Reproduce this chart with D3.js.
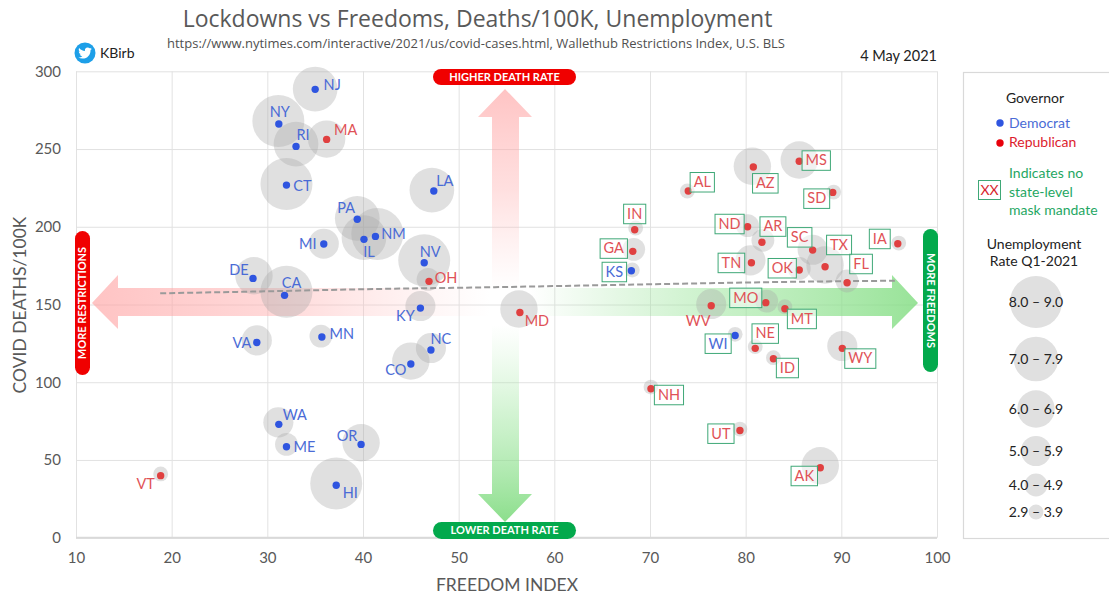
<!DOCTYPE html>
<html><head><meta charset="utf-8">
<script src="https://cdn.jsdelivr.net/npm/d3@7"></script>
<style>html,body{margin:0;padding:0;background:#fff}svg{display:block}text{font-family:Lato,sans-serif}</style>
</head><body><svg id="c" width="1109" height="595"></svg>
<script>
const titleText = "Lockdowns vs Freedoms, Deaths/100K, Unemployment";
const subtitleText = "https://www.nytimes.com/interactive/2021/us/covid-cases.html, Wallethub Restrictions Index, U.S. BLS";
const xTicks = [10,20,30,40,50,60,70,80,90,100];
const yTicks = [0,50,100,150,200,250,300];

const states = ["NJ","NY","RI","MA","CT","LA","PA","NM","IL","MI","DE","CA","NV","OH","KY","VA","MN","NC","CO","WA","ME","OR","HI","VT","MD",
  "AL","AZ","MS","SD","IN","ND","AR","GA","KS","SC","TX","TN","OK","FL","IA","WV","MO","MT","WI","NE","ID","WY","NH","UT","AK"];
const governor = ["D","D","D","R","D","D","D","D","D","D","D","D","D","R","D","D","D","D","D","D","D","D","D","R","R",
  "R","R","R","R","R","R","R","R","D","R","R","R","R","R","R","R","R","R","D","R","R","R","R","R","R"];
const freedomIndex = [35.0,31.2,33.0,36.2,32.0,47.4,39.4,41.3,40.1,35.9,28.5,31.8,46.4,46.9,46.0,28.9,35.7,47.1,45.0,31.2,32.0,39.8,37.2,18.85,56.4,
  74.0,80.8,85.6,89.1,68.4,80.2,81.7,68.2,68.05,87.0,88.3,80.6,85.6,90.6,95.9,76.4,82.1,84.1,78.9,81.0,82.9,90.1,70.1,79.4,87.8];
const deathsPer100k = [288.4,266.1,251.7,256.2,226.8,223.0,204.8,193.8,191.9,188.9,166.8,155.9,176.9,164.9,147.7,125.6,129.1,120.7,111.7,72.9,58.5,60.0,33.7,39.9,144.9,
  223.0,238.4,242.1,222.1,198.1,200.0,190.0,184.2,171.7,185.0,174.3,176.9,172.2,164.0,189.1,149.2,151.2,147.3,130.1,121.8,115.1,121.8,95.8,69.0,45.0];
// the bubbles sit slightly off the dots in the source chart
const bubbleFreedom = [35.0,31.15,33.0,36.2,32.0,47.2,39.4,41.5,40.1,35.9,28.6,32.0,46.4,46.8,46.0,28.9,35.6,47.1,45.0,31.15,32.0,39.8,37.2,18.85,56.3,
  73.9,80.7,85.6,89.2,68.5,80.2,81.8,68.3,68.15,87.0,88.3,80.5,85.6,90.6,96.0,76.4,82.2,84.1,78.9,81.0,82.9,90.1,70.1,79.4,87.8];
const bubbleDeaths = [288.6,268.0,253.2,256.4,227.5,223.6,205.4,195.3,193.0,189.1,168.5,158.2,178.4,166.2,149.0,126.9,129.7,122.0,113.6,74.2,60.0,61.1,34.9,41.0,147.1,
  223.0,238.9,242.9,222.3,199.2,200.7,191.3,185.5,172.2,185.2,175.4,178.4,173.2,165.1,189.5,150.3,152.2,148.6,130.8,122.9,115.8,123.3,96.9,69.9,46.3];
const unemployment = [7.5,8.5,7.5,6.5,8.5,7.5,7.5,8.5,7.5,5.5,6.5,8.5,8.5,4.5,5.5,5.5,4.5,5.5,6.5,5.5,4.5,6.5,8.5,3.4,6.5,
  3.4,6.5,6.5,3.4,3.4,4.5,4.5,4.5,3.4,5.5,6.5,5.5,4.5,4.5,3.4,5.5,4.5,3.4,3.4,3.4,3.4,5.5,3.4,3.4,6.5];
const noMaskMandate = ["AL","AZ","MS","SD","IN","ND","AR","GA","KS","SC","TX","TN","OK","FL","IA","MO","MT","WI","NE","ID","WY","NH","UT","AK"];
const trendFreedom = [18.8,30,40,54.3,70,85,95.6];
const trendDeaths = [157.2,158.5,159.8,161.2,163,164.6,165.3];
const legendRanges = ["8.0 – 9.0","7.0 – 7.9","6.0 – 6.9","5.0 – 5.9","4.0 – 4.9","2.9 – 3.9"];
const legendRates = [8.5,7.5,6.5,5.5,4.5,3.4];

// layout: label centre offset from each dot, in pixels
const labelOffset = {NJ:[17,-4],NY:[1,-12],RI:[7,-11],MA:[19,-9],CT:[16,1],LA:[11,-10],PA:[-11,-11],NM:[18,-2],IL:[5,13],MI:[-16,0],DE:[-14,-8],CA:[7,-12],NV:[6,-11],OH:[17,-3],KY:[-15,8],VA:[-15,0],MN:[20,-3],NC:[10,-11],CO:[-15,6],WA:[16,-9],ME:[18,0],OR:[-14,-8],HI:[14,8],VT:[-15,8],MD:[17,8],WV:[-13,15],
  AL:[14,-9],AZ:[12,16],MS:[17,-1],SD:[-16,6],IN:[0,-16],ND:[-18,-3],AR:[11,-16],GA:[-19,-3],KS:[-17,1],SC:[-13,-13],TX:[14,-22],TN:[-20,0],OK:[-17,-2],FL:[14,-19],IA:[-18,-5],MO:[-20,-5],MT:[17,10],WI:[-17,8],NE:[10,-15],ID:[14,9],WY:[18,10],NH:[18,6],UT:[-19,3],AK:[-16,8]};

const svg = d3.select("#c");
const x = d3.scaleLinear().domain([10,100]).range([76,937]);
const y = d3.scaleLinear().domain([0,300]).range([537.7,71.3]);
const r = d3.scaleLinear().domain([3.4,8.5]).range([7.4,26]);
const GRID="#e2e2e2", TICK="#595959", BLUE="#2f55e0", RED="#e04040", BLUET="#4a6bd6", REDT="#df5257", GREEN="#3fa877";

const defs = svg.append("defs");
function grad(id,x1,y1,x2,y2,stops){
  const g=defs.append("linearGradient").attr("id",id).attr("gradientUnits","userSpaceOnUse")
    .attr("x1",x1).attr("y1",y1).attr("x2",x2).attr("y2",y2);
  stops.forEach(s=>g.append("stop").attr("offset",s[0]).attr("stop-color",s[1]).attr("stop-opacity",s[2]));
}
grad("gl",92,0,490,0,[[0,"#ff9c9c",.6],[.45,"#ffb0b0",.5],[1,"#ffc0c0",0]]);
grad("gr",530,0,918,0,[[0,"#8fe08f",0],[.5,"#9be59b",.55],[1,"#7fdc7f",.8]]);
grad("gt",0,89,0,290,[[0,"#ff9c9c",.6],[.5,"#ffb0b0",.4],[1,"#ffc0c0",0]]);
grad("gb",0,522,0,325,[[0,"#6fd66f",.8],[.5,"#9be59b",.5],[1,"#b0ecb0",0]]);

// grid and axes
const gx = svg.append("g").attr("transform",`translate(0,${y(0)})`)
  .call(d3.axisBottom(x).tickValues(xTicks).tickSize(y(300)-y(0)));
gx.select(".domain").remove();
gx.selectAll("line").attr("stroke",GRID).attr("stroke-width",1);
gx.selectAll("text").attr("y",25).attr("dy",0).attr("font-size",15).attr("fill",TICK).attr("font-family","Lato");
const gy = svg.append("g").attr("transform",`translate(${x(10)},0)`)
  .call(d3.axisLeft(y).tickValues(yTicks).tickSize(x(10)-x(100)));
gy.select(".domain").remove();
gy.selectAll("line").attr("stroke",GRID).attr("stroke-width",1);
gy.selectAll("text").attr("x",-15).attr("text-anchor","end").attr("font-size",15).attr("fill",TICK).attr("font-family","Lato");
svg.append("line").attr("x1",x(10)).attr("x2",x(100)).attr("y1",y(0)).attr("y2",y(0)).attr("stroke","#d9d9d9").attr("stroke-width",2);

// direction arrows
const arrows = svg.append("g");
arrows.append("path").attr("fill","url(#gl)").attr("d","M92,303 L118,275 L118,288 L490,288 L490,316 L118,316 L118,329 Z");
arrows.append("path").attr("fill","url(#gr)").attr("d","M918,303 L892,275 L892,288 L530,288 L530,316 L892,316 L892,329 Z");
arrows.append("path").attr("fill","url(#gt)").attr("d","M505,89 L532,117 L519,117 L519,290 L492,290 L492,117 L478,117 Z");
arrows.append("path").attr("fill","url(#gb)").attr("d","M505,522 L532,494 L519,494 L519,325 L492,325 L492,494 L478,494 Z");

// bubbles
svg.append("g").selectAll("circle").data(states).join("circle")
  .attr("cx",(d,i)=>x(bubbleFreedom[i])).attr("cy",(d,i)=>y(bubbleDeaths[i]))
  .attr("r",(d,i)=>r(unemployment[i])).attr("fill","#a6a6a6").attr("fill-opacity",.35);

// trend
svg.append("path").attr("fill","none").attr("stroke","#9a9a9a").attr("stroke-width",2).attr("stroke-dasharray","6 3")
  .attr("d",d3.line().x(d=>x(d[0])).y(d=>y(d[1])).curve(d3.curveMonotoneX)(d3.zip(trendFreedom,trendDeaths)));

// dots
svg.append("g").selectAll("circle").data(states).join("circle")
  .attr("cx",(d,i)=>x(freedomIndex[i])).attr("cy",(d,i)=>y(deathsPer100k[i])).attr("r",3.7)
  .attr("fill",(d,i)=>governor[i]==="D"?BLUE:RED);

// state labels
const lab = svg.append("g");
states.forEach((s,i)=>{
  const cx=x(freedomIndex[i])+labelOffset[s][0], cy=y(deathsPer100k[i])+labelOffset[s][1];
  const t=lab.append("text").attr("x",cx).attr("y",cy).attr("dy","0.35em").attr("text-anchor","middle")
    .attr("font-size",14.5).attr("fill",governor[i]==="D"?BLUET:REDT).text(s);
  if(noMaskMandate.includes(s)){
    const w=t.node().getComputedTextLength()+7;
    lab.insert("rect","text").attr("x",cx-w/2).attr("y",cy-9.5).attr("width",w).attr("height",19.5)
      .attr("fill","#fff").attr("fill-opacity",.55).attr("stroke",GREEN).attr("stroke-width",1);
  }
});

// pills
function pill(px,py,w,h,col,txt,rot){
  const g=svg.append("g");
  g.append("rect").attr("x",px).attr("y",py).attr("width",w).attr("height",h).attr("rx",Math.min(w,h)/2).attr("fill",col);
  const cx=px+w/2, cy=py+h/2;
  g.append("text").attr("transform",`translate(${cx},${cy}) rotate(${rot})`).attr("text-anchor","middle").attr("dy","0.35em")
    .attr("font-size",11).attr("font-weight",700).attr("fill","#fff").text(txt);
}
pill(433,69,143,16,"#f00000","HIGHER DEATH RATE",0);
pill(433,522,143,17,"#03a94c","LOWER DEATH RATE",0);
pill(75,231,15,144,"#f00000","MORE RESTRICTIONS",-90);
pill(923,229,15,143,"#03a94c","MORE FREEDOMS",90);

// titles
svg.append("text").attr("x",477.5).attr("y",27).attr("text-anchor","middle").attr("font-size",23).attr("fill","#595959").style("font-family","'Open Sans'").text(titleText);
svg.append("text").attr("x",476).attr("y",48).attr("text-anchor","middle").attr("font-size",13).attr("fill","#505050").style("font-family","'Open Sans'").text(subtitleText);
svg.append("text").attr("x",937).attr("y",61).attr("text-anchor","end").attr("font-size",14.5).attr("fill","#222").text("4 May 2021");
svg.append("text").attr("x",507).attr("y",591).attr("text-anchor","middle").attr("font-size",17.5).attr("fill",TICK).text("FREEDOM INDEX");
svg.append("text").attr("transform","translate(26,305) rotate(-90)").attr("text-anchor","middle").attr("font-size",17.5).attr("fill",TICK).text("COVID DEATHS/100K");

// twitter badge
svg.append("circle").attr("cx",85).attr("cy",53).attr("r",10.5).attr("fill","#1d9fe8");
svg.append("path").attr("transform","translate(78.2,46.2) scale(0.57)").attr("fill","#fff")
  .attr("d","M23.953 4.57a10 10 0 01-2.825.775 4.958 4.958 0 002.163-2.723c-.951.555-2.005.959-3.127 1.184a4.92 4.92 0 00-8.384 4.482C7.69 8.095 4.067 6.13 1.64 3.162a4.822 4.822 0 00-.666 2.475c0 1.71.87 3.213 2.188 4.096a4.904 4.904 0 01-2.228-.616v.06a4.923 4.923 0 003.946 4.827 4.996 4.996 0 01-2.212.085 4.936 4.936 0 004.604 3.417 9.867 9.867 0 01-6.102 2.105c-.39 0-.779-.023-1.17-.067a13.995 13.995 0 007.557 2.209c9.053 0 13.998-7.496 13.998-13.985 0-.21 0-.42-.015-.63A9.935 9.935 0 0024 4.59z");
svg.append("text").attr("x",100).attr("y",58).attr("font-size",14).attr("fill","#222").text("KBirb");

// legend
const lg = svg.append("g");
lg.append("rect").attr("x",963.5).attr("y",72.5).attr("width",150).attr("height",466).attr("fill","#fff").attr("stroke","#d9d9d9").attr("stroke-width",1.2);
const lt=(tx,ty,s,col,anchor)=>lg.append("text").attr("x",tx).attr("y",ty).attr("dy","0.35em").attr("text-anchor",anchor||"start").attr("font-size",14).attr("fill",col).text(s);
lt(1035,98,"Governor","#222","middle");
lg.append("circle").attr("cx",1000).attr("cy",123).attr("r",3.7).attr("fill",BLUE);
lt(1009,123,"Democrat",BLUET);
lg.append("circle").attr("cx",1000).attr("cy",143).attr("r",3.7).attr("fill","#e8000b");
lt(1009,142,"Republican","#dc1c2e");
lt(1009,173,"Indicates no","#1fa763");
lt(1009,192,"state-level","#1fa763");
lt(1009,210.5,"mask mandate","#1fa763");
lg.append("rect").attr("x",978.5).attr("y",180.5).attr("width",22).attr("height",19).attr("fill","#fff").attr("stroke",GREEN);
lt(989.5,190,"XX","#d81e2c","middle");
lt(1034,244,"Unemployment","#222","middle");
lt(1034,261,"Rate Q1-2021","#222","middle");
const legendCentres = [302,359,409,451,485,512];
legendRanges.forEach((s,i)=>{
  lg.append("circle").attr("cx",1036).attr("cy",legendCentres[i]).attr("r",r(legendRates[i])).attr("fill","#e0e0e0");
  lt(1036,legendCentres[i],s,"#222","middle");
});
</script></body></html>
